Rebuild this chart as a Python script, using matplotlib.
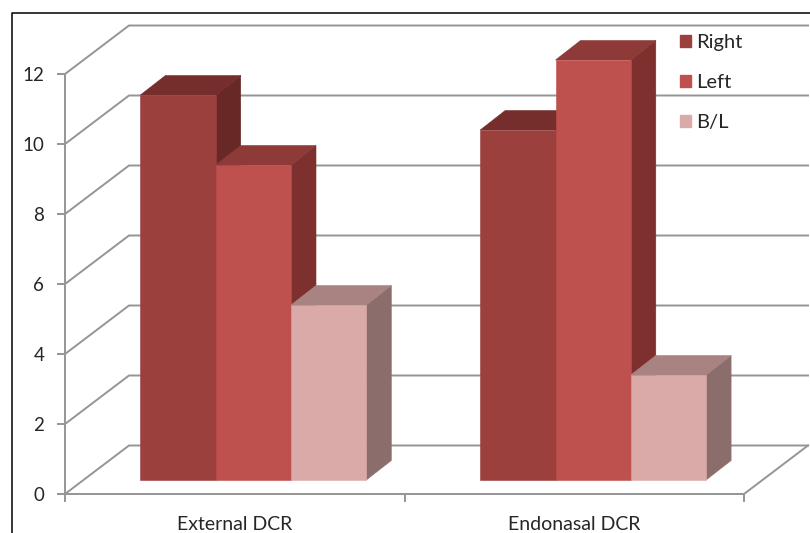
import matplotlib
matplotlib.use("Agg")
import matplotlib.pyplot as plt
from matplotlib.lines import Line2D
from matplotlib.patches import Patch, Polygon

plt.rcParams["font.family"] = ["Lato", "DejaVu Sans"]

categories = ["External DCR", "Endonasal DCR"]
series_names = ["Right", "Left", "B/L"]
right_values = [11, 10]
left_values = [9, 12]
bl_values = [5, 3]
y_ticks = [0, 2, 4, 6, 8, 10, 12]

# front, top and side shades of each series
right_colors = ("#9C403E", "#762E2C", "#672826")
left_colors = ("#BE504D", "#8D3A38", "#7D302E")
bl_colors = ("#D9AAA8", "#A88381", "#8B6D6C")

W, H = 810, 533
GRID = "#959595"
TEXT = "#262626"

# oblique projection, in data units: one category is 339.5 px, one value is 35 px
FLOOR_DX, FLOOR_DY = 64 / 339.5, 48.5 / 35
BAR_DX, BAR_DY = 25 / 339.5, 19.5 / 35
BAR_BASE = 0.4
BAR_W = 75.3 / 339.5
GROUP_START = [75.4 / 339.5, 415.2 / 339.5]

fig = plt.figure(figsize=(W / 100, H / 100), dpi=100)
ax = fig.add_axes([65 / W, (H - 494) / H, 679 / W, 420 / H])
ax.set_xlim(0, 2)
ax.set_ylim(0, 12)
ax.patch.set_visible(False)

# wall gridlines and floor edge
for v in y_ticks:
    ax.plot([0, FLOOR_DX, 2 + FLOOR_DX], [v, v + FLOOR_DY, v + FLOOR_DY],
            color=GRID, lw=1.4, clip_on=False, zorder=1, solid_joinstyle="miter")
ax.plot([2, 2 + FLOOR_DX], [0, FLOOR_DY], color=GRID, lw=1.4, clip_on=False, zorder=1)


def draw_bar(x, value, colors, z):
    front, top, side = colors
    y0, y1 = BAR_BASE, BAR_BASE + value
    x1 = x + BAR_W
    shapes = [
        ([(x1, y0), (x1 + BAR_DX, y0 + BAR_DY), (x1 + BAR_DX, y1 + BAR_DY), (x1, y1)], side),
        ([(x, y1), (x + BAR_DX, y1 + BAR_DY), (x1 + BAR_DX, y1 + BAR_DY), (x1, y1)], top),
        ([(x, y0), (x1, y0), (x1, y1), (x, y1)], front),
    ]
    for pts, color in shapes:
        ax.add_patch(Polygon(pts, closed=True, facecolor=color, edgecolor=color,
                             lw=0.4, clip_on=False, zorder=z))


for g, start in enumerate(GROUP_START):
    for s, (values, colors) in enumerate([(right_values, right_colors),
                                          (left_values, left_colors),
                                          (bl_values, bl_colors)]):
        draw_bar(start + s * BAR_W, values[g], colors, 2 + s)

# axes
for name in ("top", "right"):
    ax.spines[name].set_visible(False)
for name in ("left", "bottom"):
    ax.spines[name].set_color(GRID)
    ax.spines[name].set_linewidth(1.4)
    ax.spines[name].set_zorder(1)

ax.set_yticks(y_ticks)
ax.set_yticklabels([str(v) for v in y_ticks])
ax.tick_params(axis="y", length=6, width=1.4, color=GRID, labelcolor=TEXT,
               labelsize=13.5, pad=9)
ax.set_xticks([0, 1, 2])
ax.set_xticklabels([])
ax.tick_params(axis="x", which="major", length=6, width=1.4, color=GRID)
ax.set_xticks([0.5, 1.5], minor=True)
ax.set_xticklabels(categories, minor=True)
ax.tick_params(axis="x", which="minor", length=0, labelcolor=TEXT, labelsize=14, pad=16)

# legend
handles = [Patch(facecolor=c[0], edgecolor=c[0]) for c in (right_colors, left_colors, bl_colors)]
ax.legend(handles, series_names, loc="upper left",
          bbox_to_anchor=(680 / W, (H - 34) / H), bbox_transform=fig.transFigure,
          frameon=False, fontsize=14.5, labelcolor=TEXT, handlelength=0.55, handleheight=0.55,
          handletextpad=0.27, labelspacing=1.14, borderaxespad=0, borderpad=0)

# outer frame, left and top only
fig.add_artist(Line2D([11.5 / W, 11.5 / W, 1], [0, (H - 12.5) / H, (H - 12.5) / H],
                      color="black", lw=1.1, transform=fig.transFigure))

fig.savefig("out.png", dpi=100)
